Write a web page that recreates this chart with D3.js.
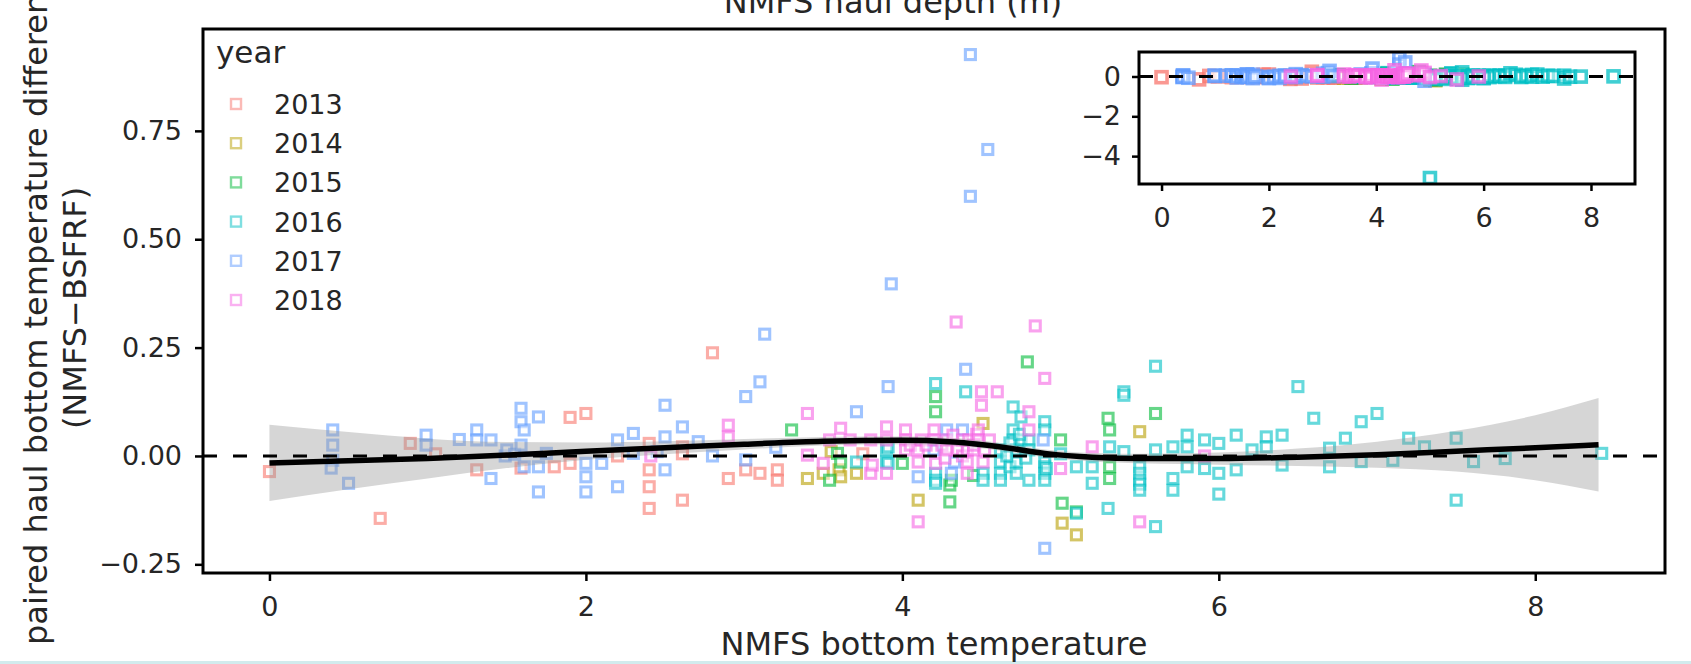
<!DOCTYPE html>
<html><head><meta charset="utf-8">
<script src="https://cdn.jsdelivr.net/npm/d3@7"></script>
<style>
html,body{margin:0;padding:0;background:#fff;}
svg{display:block;font-family:"DejaVu Sans",sans-serif;}
</style></head><body>
<svg id="chart" width="1691" height="664"></svg>
<script>
// Paired hauls: [NMFS bottom temperature, NMFS - BSFRF temperature difference]
const years = ["2013", "2014", "2015", "2016", "2017", "2018"];
const yearColors = ["#F8766D", "#B79F00", "#00BA38", "#00BFC4", "#619CFF", "#F564E3"];

const pts2013 = [[0.00,-0.036],[0.70,-0.144],[0.89,0.029],[1.31,-0.032],[1.59,-0.028],[1.80,-0.025],[1.90,-0.017],[1.90,0.089],[2.00,0.098],[2.40,0.029],[2.40,-0.032],[2.40,-0.071],[2.40,-0.121],[2.61,0.021],[2.61,0.005],[2.61,-0.102],[2.80,0.238],[2.90,-0.052],[3.01,-0.032],[3.10,-0.040],[3.21,-0.032],[3.21,-0.056],[2.20,0.000],[1.05,0.005],[3.75,0.005]];
const pts2014 = [[3.40,-0.052],[3.50,-0.040],[3.60,-0.032],[3.71,-0.040],[3.61,-0.048],[3.55,0.010],[4.10,-0.102],[4.51,0.075],[5.01,-0.155],[5.10,-0.182],[5.50,0.056]];
const pts2015 = [[3.30,0.060],[3.59,0.006],[3.61,-0.014],[3.54,-0.056],[4.00,-0.017],[4.21,0.137],[4.21,0.102],[4.30,-0.067],[4.31,-0.056],[4.30,-0.106],[4.79,0.217],[5.00,0.037],[5.01,-0.109],[5.10,-0.129],[5.30,0.087],[5.31,0.060],[5.31,-0.025],[5.31,-0.052],[5.60,0.098],[4.45,-0.045]];
const pts2016 = [[3.71,-0.014],[3.90,0.014],[3.90,-0.014],[3.91,0.021],[3.91,-0.017],[4.21,0.167],[4.21,-0.040],[4.21,-0.056],[4.21,-0.063],[4.40,0.148],[4.51,-0.040],[4.51,-0.056],[4.62,0.014],[4.62,-0.014],[4.62,-0.040],[4.62,-0.056],[4.68,-0.025],[4.70,0.113],[4.70,0.060],[4.70,0.037],[4.72,0.014],[4.72,-0.014],[4.72,-0.040],[4.75,0.037],[4.75,0.090],[4.80,0.037],[4.80,0.014],[4.80,-0.056],[4.90,0.079],[4.90,0.060],[4.90,-0.014],[4.90,-0.025],[4.90,-0.040],[4.90,-0.056],[4.91,-0.029],[4.68,0.030],[4.74,0.050],[4.66,0.000],[4.78,-0.005],[5.00,0.005],[5.10,-0.025],[5.20,-0.025],[5.20,-0.063],[5.10,-0.132],[5.30,-0.121],[5.31,0.021],[5.40,0.148],[5.40,0.140],[5.40,0.010],[5.50,-0.025],[5.50,-0.040],[5.50,-0.056],[5.50,-0.065],[5.50,-0.079],[5.60,0.207],[5.60,0.014],[5.60,-0.163],[5.71,0.021],[5.71,-0.052],[5.71,-0.079],[5.80,0.048],[5.80,0.021],[5.80,-0.025],[5.91,0.037],[5.91,-0.029],[6.00,0.029],[6.00,-0.040],[6.00,-0.088],[6.11,0.048],[6.11,-0.032],[6.21,0.014],[6.30,0.044],[6.30,0.021],[6.40,0.048],[6.40,-0.021],[6.50,0.160],[6.60,0.087],[6.70,0.018],[6.70,-0.025],[6.80,0.041],[6.90,0.079],[6.90,-0.013],[7.00,0.098],[7.10,-0.010],[7.20,0.041],[7.30,0.021],[7.50,0.041],[7.50,-0.102],[7.61,-0.013],[7.81,-0.006],[8.42,0.006],[5.00,-5.10]];
const pts2017 = [[0.40,0.060],[0.40,0.025],[0.40,-0.010],[0.39,-0.028],[0.50,-0.063],[0.99,0.048],[0.99,0.025],[1.20,0.038],[1.31,0.060],[1.31,0.037],[1.40,0.037],[1.40,-0.052],[1.49,0.000],[1.50,0.014],[1.55,0.004],[1.59,0.110],[1.59,0.079],[1.61,0.060],[1.59,0.025],[1.70,0.090],[1.61,-0.025],[1.70,-0.025],[1.70,-0.083],[1.75,0.006],[2.00,-0.017],[2.00,-0.048],[2.00,-0.083],[2.10,-0.017],[2.20,-0.071],[2.20,0.037],[2.30,0.052],[2.30,0.006],[2.45,0.010],[2.50,0.117],[2.50,0.044],[2.50,-0.032],[2.61,0.067],[2.71,0.033],[2.80,0.000],[3.01,-0.009],[3.01,0.137],[3.10,0.171],[3.13,0.281],[3.20,0.020],[3.71,0.102],[3.91,0.160],[3.93,0.397],[4.10,-0.048],[4.28,0.060],[4.20,0.014],[4.31,-0.040],[4.33,-0.014],[4.38,0.060],[4.40,0.200],[4.43,0.926],[4.43,0.599],[4.54,0.707],[4.89,0.037],[4.90,-0.213]];
const pts2018 = [[2.41,0.000],[2.90,0.071],[2.90,0.044],[3.40,0.098],[3.40,0.002],[3.50,-0.017],[3.54,0.037],[3.61,0.064],[3.67,0.037],[3.80,0.037],[3.80,-0.040],[3.81,-0.021],[3.90,0.037],[3.90,0.067],[3.90,-0.040],[4.02,0.060],[4.02,0.037],[4.02,0.014],[4.05,0.025],[4.10,0.014],[4.10,-0.014],[4.10,-0.152],[4.12,0.037],[4.15,0.025],[4.20,0.060],[4.20,0.037],[4.21,-0.017],[4.25,0.025],[4.27,-0.005],[4.28,0.037],[4.28,0.014],[4.32,0.048],[4.34,0.309],[4.35,0.014],[4.38,0.037],[4.38,0.000],[4.41,0.014],[4.41,-0.014],[4.41,-0.040],[4.42,0.037],[4.45,0.014],[4.45,0.025],[4.47,0.050],[4.48,0.060],[4.48,0.037],[4.50,0.148],[4.50,0.117],[4.51,-0.014],[4.52,0.014],[4.55,0.037],[4.60,0.148],[4.80,0.102],[4.80,0.060],[4.84,0.300],[4.90,0.179],[5.00,-0.029],[5.20,0.021],[5.50,-0.152],[5.91,0.000]];
const pointsByYear = [pts2013, pts2014, pts2015, pts2016, pts2017, pts2018];

// Smoothed fit with its confidence half-width
const smoothX   = [0, 0.5, 1, 1.5, 2, 2.5, 3, 3.5, 4, 4.3, 4.6, 4.9, 5.2, 5.5, 6, 6.5, 7, 7.5, 8, 8.4];
const smoothFit = [-0.016, -0.011, -0.006, 0.002, 0.011, 0.019, 0.027, 0.034, 0.036, 0.033, 0.022, 0.006, -0.003, -0.006, -0.006, -0.003, 0.003, 0.011, 0.019, 0.026];
const smoothSE  = [0.088, 0.066, 0.046, 0.030, 0.020, 0.015, 0.012, 0.010, 0.009, 0.009, 0.009, 0.009, 0.010, 0.011, 0.014, 0.020, 0.030, 0.047, 0.075, 0.108];

const xTicks = [0, 2, 4, 6, 8];
const yTicks = [-0.25, 0, 0.25, 0.5, 0.75];
const yTickLabels = ["\u22120.25", "0.00", "0.25", "0.50", "0.75"];
const insetYTicks = [-4, -2, 0];
const insetYTickLabels = ["\u22124", "\u22122", "0"];

const points = [];
pointsByYear.forEach((arr, i) => arr.forEach(p => points.push({x: p[0], y: p[1], year: years[i]})));
const smooth = smoothX.map((v, i) => ({x: v, fit: smoothFit[i], se: smoothSE[i]}));

const color = d3.scaleOrdinal().domain(years).range(yearColors);
const svg = d3.select("#chart");
const ink = "#262626";

// ---------- main panel ----------
const P = {left: 203, right: 1665, top: 29, bottom: 573};
const x = d3.scaleLinear().domain([-0.42, 8.82]).range([P.left, P.right]);
const y = d3.scaleLinear().domain([-0.27, 0.985]).range([P.bottom, P.top]);

svg.append("rect").attr("x", 0).attr("y", 661).attr("width", 1691).attr("height", 3).attr("fill", "#d2ebed");

const defs = svg.append("defs");
defs.append("clipPath").attr("id", "clipMain").append("rect")
  .attr("x", P.left).attr("y", P.top).attr("width", P.right - P.left).attr("height", P.bottom - P.top);

const main = svg.append("g").attr("clip-path", "url(#clipMain)");
function drawPoints(g, sx, sy, size, sw, op) {
  g.selectAll("rect.pt").data(points).join("rect")
    .attr("class", "pt")
    .attr("x", d => sx(d.x) - size / 2).attr("y", d => sy(d.y) - size / 2)
    .attr("width", size).attr("height", size)
    .attr("fill", "#fff").attr("fill-opacity", 0.45)
    .attr("stroke", d => color(d.year)).attr("stroke-opacity", op).attr("stroke-width", sw);
}
drawPoints(main, x, y, 10, 3.1, 0.6);

main.append("path").datum(smooth)
  .attr("d", d3.area().x(d => x(d.x)).y0(d => y(d.fit - d.se)).y1(d => y(d.fit + d.se)).curve(d3.curveMonotoneX))
  .attr("fill", "#999999").attr("fill-opacity", 0.4);
main.append("path").datum(smooth)
  .attr("d", d3.line().x(d => x(d.x)).y(d => y(d.fit)).curve(d3.curveMonotoneX))
  .attr("fill", "none").attr("stroke", "#000").attr("stroke-width", 5.5);
main.append("line").attr("x1", P.left).attr("x2", P.right).attr("y1", y(0)).attr("y2", y(0))
  .attr("stroke", "#000").attr("stroke-width", 3).attr("stroke-dasharray", "14,16");

svg.append("rect").attr("x", P.left).attr("y", P.top).attr("width", P.right - P.left).attr("height", P.bottom - P.top)
  .attr("fill", "none").attr("stroke", "#000").attr("stroke-width", 3);

const gx = svg.append("g").attr("transform", `translate(0,${P.bottom})`)
  .call(d3.axisBottom(x).tickValues(xTicks).tickSize(8).tickPadding(16).tickFormat(d3.format("d")));
const gy = svg.append("g").attr("transform", `translate(${P.left},0)`)
  .call(d3.axisLeft(y).tickValues(yTicks).tickSize(8).tickPadding(13).tickFormat((d, i) => yTickLabels[i]));
[gx, gy].forEach(g => {
  g.select(".domain").remove();
  g.selectAll(".tick line").attr("stroke", "#000").attr("stroke-width", 2.5);
  g.selectAll(".tick text").attr("fill", ink).style("font-size", "27px").style("font-family", "DejaVu Sans");
});

// axis titles
svg.append("text").attr("x", 934).attr("y", 655).attr("text-anchor", "middle")
  .style("font-size", "32px").attr("fill", ink).text("NMFS bottom temperature");
svg.append("text").attr("x", 893).attr("y", 13).attr("text-anchor", "middle")
  .style("font-size", "32px").attr("fill", ink).text("NMFS haul depth (m)");
svg.append("text").attr("transform", "translate(47,645) rotate(-90)").attr("text-anchor", "start")
  .style("font-size", "32px").attr("fill", ink).text("paired haul bottom temperature difference");
svg.append("text").attr("transform", "translate(86,308) rotate(-90)").attr("text-anchor", "middle")
  .style("font-size", "32px").attr("fill", ink).text("(NMFS\u2212BSFRF)");

// legend
const leg = svg.append("g");
leg.append("text").attr("x", 216).attr("y", 63).style("font-size", "31px").attr("fill", ink).text("year");
years.forEach((yr, i) => {
  const cy = 104 + i * 39.2;
  leg.append("rect").attr("x", 236 - 5).attr("y", cy - 5).attr("width", 10).attr("height", 10)
    .attr("fill", "#fff").attr("stroke", yearColors[i]).attr("stroke-opacity", 0.5).attr("stroke-width", 2.4);
  leg.append("text").attr("x", 274).attr("y", cy + 10).style("font-size", "27px").attr("fill", ink).text(yr);
});

// ---------- inset: full range of differences ----------
const I = {left: 1139, right: 1635, top: 52, bottom: 184};
const ix = d3.scaleLinear().domain([-0.42, 8.82]).range([I.left, I.right]);
const iy = d3.scaleLinear().domain([-5.40, 1.23]).range([I.bottom, I.top]);
defs.append("clipPath").attr("id", "clipInset").append("rect")
  .attr("x", I.left).attr("y", I.top).attr("width", I.right - I.left).attr("height", I.bottom - I.top);
svg.append("rect").attr("x", I.left).attr("y", I.top).attr("width", I.right - I.left).attr("height", I.bottom - I.top).attr("fill", "#fff");
const inset = svg.append("g").attr("clip-path", "url(#clipInset)");
drawPoints(inset, ix, iy, 11, 3.6, 0.75);
inset.append("line").attr("x1", I.left).attr("x2", I.right).attr("y1", iy(0)).attr("y2", iy(0))
  .attr("stroke", "#000").attr("stroke-width", 3).attr("stroke-dasharray", "14,16");
svg.append("rect").attr("x", I.left).attr("y", I.top).attr("width", I.right - I.left).attr("height", I.bottom - I.top)
  .attr("fill", "none").attr("stroke", "#000").attr("stroke-width", 3);
const igx = svg.append("g").attr("transform", `translate(0,${I.bottom})`)
  .call(d3.axisBottom(ix).tickValues(xTicks).tickSize(7).tickPadding(17).tickFormat(d3.format("d")));
const igy = svg.append("g").attr("transform", `translate(${I.left},0)`)
  .call(d3.axisLeft(iy).tickValues(insetYTicks).tickSize(7).tickPadding(11).tickFormat((d, i) => insetYTickLabels[i]));
[igx, igy].forEach(g => {
  g.select(".domain").remove();
  g.selectAll(".tick line").attr("stroke", "#000").attr("stroke-width", 2.5);
  g.selectAll(".tick text").attr("fill", ink).style("font-size", "27px").style("font-family", "DejaVu Sans");
});
</script></body></html>
